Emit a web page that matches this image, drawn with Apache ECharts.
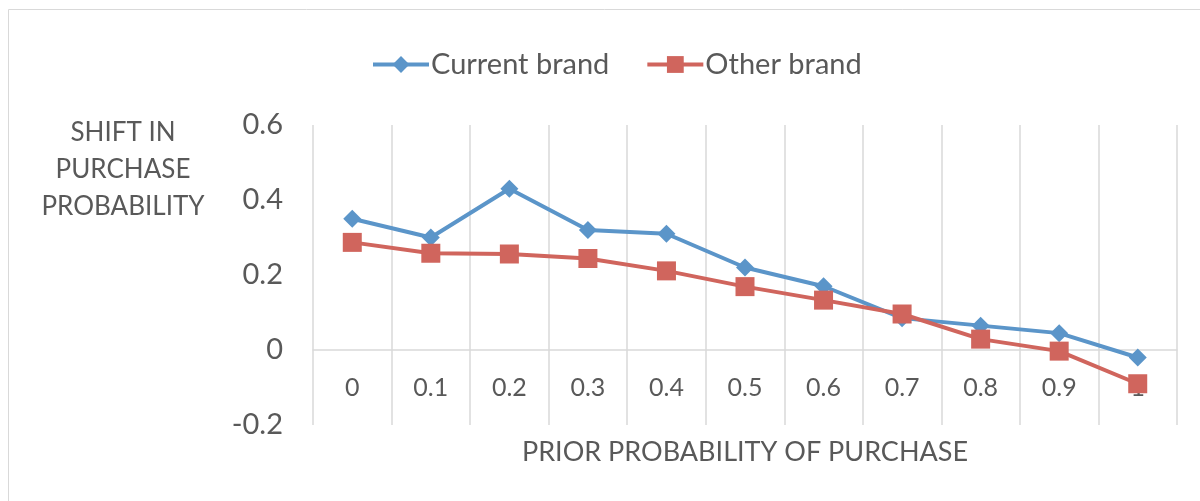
<!DOCTYPE html>
<html><head><meta charset="utf-8">
<script src="https://cdn.jsdelivr.net/npm/echarts@6/dist/echarts.min.js"></script>
<style>html,body{margin:0;padding:0;background:#fff}#c{width:1200px;height:501px}</style>
</head><body><div id="c"></div>
<script>
var categories = ['0','0.1','0.2','0.3','0.4','0.5','0.6','0.7','0.8','0.9','1'];
var currentBrand = [0.35, 0.30, 0.43, 0.32, 0.31, 0.22, 0.17, 0.085, 0.065, 0.045, -0.02];
var otherBrand = [0.287, 0.258, 0.256, 0.244, 0.211, 0.169, 0.133, 0.096, 0.029, -0.003, -0.09];
var yTicks = {min: -0.2, max: 0.6, interval: 0.2};
var FONT = 'Lato';
var TXT = '#595959';
var chart = echarts.init(document.getElementById('c'));
chart.setOption({
  animation: false,
  textStyle: {fontFamily: FONT},
  graphic: [{type: 'rect', shape: {x: 8.5, y: 9.5, width: 1300, height: 600}, style: {fill: 'none', stroke: '#d9d9d9', lineWidth: 1}, silent: true}],
  title: {text: 'SHIFT IN\nPURCHASE\nPROBABILITY', left: 118, top: 109, textAlign: 'center',
    textStyle: {fontFamily: FONT, fontSize: 26, fontWeight: 'normal', color: TXT, lineHeight: 37, align: 'center'}},
  legend: {top: 45, left: 366, itemWidth: 56, itemHeight: 21, itemGap: 36,
    lineStyle: {width: 4},
    textStyle: {fontFamily: FONT, fontSize: 29, color: TXT, padding: [0,0,0,-3]},
    data: ['Current brand', 'Other brand']},
  grid: {left: 313, right: 23, top: 125, bottom: 76, outerBoundsMode: 'none', containLabel: false},
  xAxis: {type: 'category', data: categories, boundaryGap: true, position: 'bottom', offset: -75,
    axisLine: {onZero: false, lineStyle: {color: '#d9d9d9', width: 1.5}},
    axisTick: {show: false},
    axisLabel: {fontFamily: FONT, fontSize: 25, color: TXT, margin: 25},
    splitLine: {show: true, lineStyle: {color: '#d9d9d9', width: 1.5}},
    name: 'PRIOR PROBABILITY OF PURCHASE', nameLocation: 'middle', nameGap: 89,
    nameTextStyle: {fontFamily: FONT, fontSize: 27, color: TXT}},
  yAxis: {type: 'value', min: yTicks.min, max: yTicks.max, interval: yTicks.interval,
    axisLine: {show: false}, axisTick: {show: false}, splitLine: {show: false},
    axisLabel: {fontFamily: FONT, fontSize: 29, color: TXT, margin: 30,
      formatter: function (v) { return String(Math.round(v * 10) / 10); }}},
  series: [
    {name: 'Current brand', type: 'line', data: currentBrand, symbol: 'diamond', symbolSize: 18,
      lineStyle: {color: '#5b95c9', width: 4}, itemStyle: {color: '#5b95c9'}, z: 3},
    {name: 'Other brand', type: 'line', data: otherBrand, symbol: 'rect', symbolSize: 19,
      lineStyle: {color: '#d0655d', width: 4}, itemStyle: {color: '#d0655d'}, z: 4}
  ]
});
</script></body></html>
